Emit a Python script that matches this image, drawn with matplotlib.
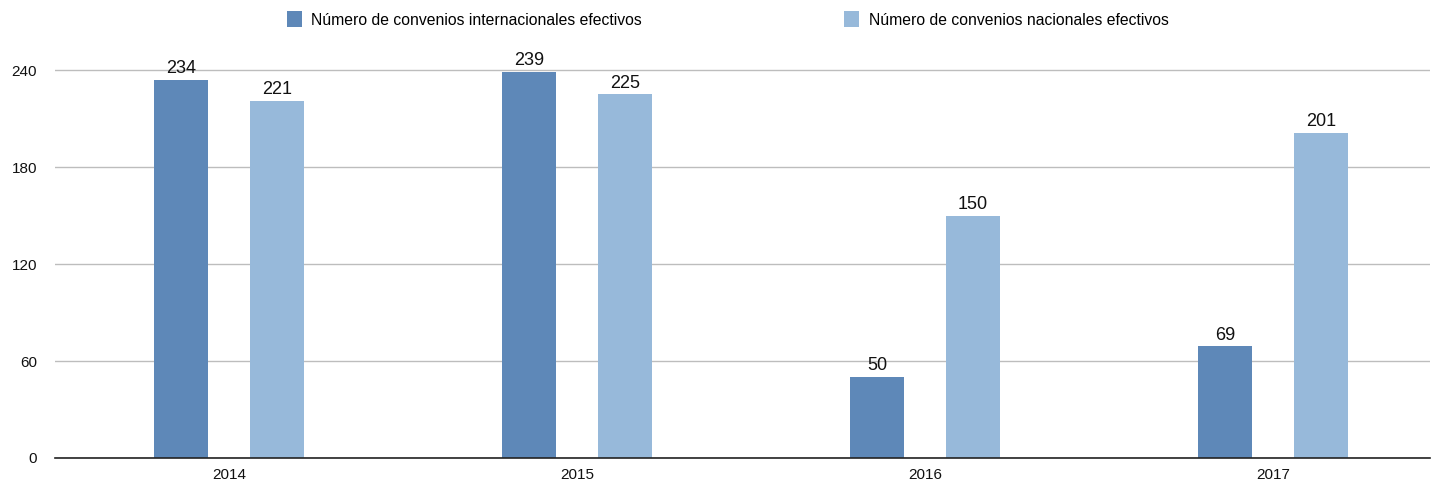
import matplotlib.pyplot as plt
import numpy as np

plt.rcParams['font.family'] = ['Liberation Sans', 'DejaVu Sans']

years = ["2014", "2015", "2016", "2017"]
internacionales = [234, 239, 50, 69]
nacionales = [221, 225, 150, 201]
labels = ["Número de convenios internacionales efectivos",
          "Número de convenios nacionales efectivos"]

fig = plt.figure(figsize=(14.34, 4.83), dpi=100)
ax = fig.add_axes([0.0384, 0.0518, 0.9586, 0.870])

x = np.arange(len(years))
w = 0.155
off = 0.138
b1 = ax.bar(x - off, internacionales, w, color='#5E88B8', label=labels[0], zorder=3)
b2 = ax.bar(x + off, nacionales, w, color='#97B9DA', label=labels[1], zorder=3)
ax.bar_label(b1, padding=2, fontsize=13, color='#111111')
ax.bar_label(b2, padding=2, fontsize=13, color='#111111')

ax.set_xlim(-0.5, 3.45)
ax.set_ylim(0, 260)
ax.set_yticks([0, 60, 120, 180, 240])
ax.set_xticks(x)
ax.set_xticklabels(years)
ax.tick_params(length=0, labelsize=11, colors='#111111')
ax.tick_params(axis='y', pad=13)
ax.tick_params(axis='x', pad=7)
ax.yaxis.grid(True, color='#BDBDBD', linewidth=1, zorder=0)
for s in ['top', 'right', 'left']:
    ax.spines[s].set_visible(False)
ax.spines['bottom'].set_color('#222222')
ax.spines['bottom'].set_linewidth(1.2)
ax.spines['bottom'].set_zorder(4)

fig.legend(loc='center left', bbox_to_anchor=(0.2001, 0.9596), ncol=2, frameon=False,
           fontsize=11.3, handlelength=0.95, handleheight=1.15, handletextpad=0.6,
           columnspacing=12.9, borderpad=0, borderaxespad=0)

fig.savefig('out.png', dpi=100)
